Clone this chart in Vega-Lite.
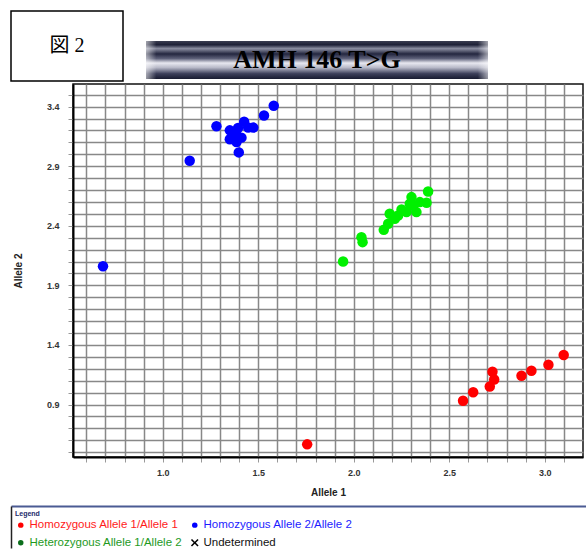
{
  "$schema": "https://vega.github.io/schema/vega-lite/v6.json",
  "padding": {"left": 10, "top": 10, "right": 0, "bottom": 0},
  "background": "white",
  "config": {"font": "Liberation Sans", "view": {"stroke": null}},
  "datasets": {
    "points": [
      {"allele1": 1.756, "allele2": 0.566, "genotype": "Homozygous Allele 1/Allele 1"},
      {"allele1": 2.572, "allele2": 0.932, "genotype": "Homozygous Allele 1/Allele 1"},
      {"allele1": 2.625, "allele2": 1.003, "genotype": "Homozygous Allele 1/Allele 1"},
      {"allele1": 2.712, "allele2": 1.052, "genotype": "Homozygous Allele 1/Allele 1"},
      {"allele1": 2.735, "allele2": 1.110, "genotype": "Homozygous Allele 1/Allele 1"},
      {"allele1": 2.726, "allele2": 1.176, "genotype": "Homozygous Allele 1/Allele 1"},
      {"allele1": 2.878, "allele2": 1.142, "genotype": "Homozygous Allele 1/Allele 1"},
      {"allele1": 2.930, "allele2": 1.184, "genotype": "Homozygous Allele 1/Allele 1"},
      {"allele1": 3.019, "allele2": 1.234, "genotype": "Homozygous Allele 1/Allele 1"},
      {"allele1": 3.099, "allele2": 1.316, "genotype": "Homozygous Allele 1/Allele 1"},
      {"allele1": 0.687, "allele2": 2.061, "genotype": "Homozygous Allele 2/Allele 2"},
      {"allele1": 1.141, "allele2": 2.946, "genotype": "Homozygous Allele 2/Allele 2"},
      {"allele1": 1.281, "allele2": 3.236, "genotype": "Homozygous Allele 2/Allele 2"},
      {"allele1": 1.581, "allele2": 3.408, "genotype": "Homozygous Allele 2/Allele 2"},
      {"allele1": 1.530, "allele2": 3.325, "genotype": "Homozygous Allele 2/Allele 2"},
      {"allele1": 1.426, "allele2": 3.274, "genotype": "Homozygous Allele 2/Allele 2"},
      {"allele1": 1.474, "allele2": 3.224, "genotype": "Homozygous Allele 2/Allele 2"},
      {"allele1": 1.447, "allele2": 3.224, "genotype": "Homozygous Allele 2/Allele 2"},
      {"allele1": 1.351, "allele2": 3.201, "genotype": "Homozygous Allele 2/Allele 2"},
      {"allele1": 1.382, "allele2": 3.187, "genotype": "Homozygous Allele 2/Allele 2"},
      {"allele1": 1.394, "allele2": 3.221, "genotype": "Homozygous Allele 2/Allele 2"},
      {"allele1": 1.368, "allele2": 3.159, "genotype": "Homozygous Allele 2/Allele 2"},
      {"allele1": 1.412, "allele2": 3.140, "genotype": "Homozygous Allele 2/Allele 2"},
      {"allele1": 1.351, "allele2": 3.126, "genotype": "Homozygous Allele 2/Allele 2"},
      {"allele1": 1.386, "allele2": 3.103, "genotype": "Homozygous Allele 2/Allele 2"},
      {"allele1": 1.398, "allele2": 3.016, "genotype": "Homozygous Allele 2/Allele 2"},
      {"allele1": 1.944, "allele2": 2.100, "genotype": "Heterozygous Allele 1/Allele 2"},
      {"allele1": 2.040, "allele2": 2.305, "genotype": "Heterozygous Allele 1/Allele 2"},
      {"allele1": 2.046, "allele2": 2.263, "genotype": "Heterozygous Allele 1/Allele 2"},
      {"allele1": 2.157, "allele2": 2.366, "genotype": "Heterozygous Allele 1/Allele 2"},
      {"allele1": 2.180, "allele2": 2.417, "genotype": "Heterozygous Allele 1/Allele 2"},
      {"allele1": 2.188, "allele2": 2.501, "genotype": "Heterozygous Allele 1/Allele 2"},
      {"allele1": 2.215, "allele2": 2.459, "genotype": "Heterozygous Allele 1/Allele 2"},
      {"allele1": 2.232, "allele2": 2.487, "genotype": "Heterozygous Allele 1/Allele 2"},
      {"allele1": 2.250, "allele2": 2.537, "genotype": "Heterozygous Allele 1/Allele 2"},
      {"allele1": 2.276, "allele2": 2.515, "genotype": "Heterozygous Allele 1/Allele 2"},
      {"allele1": 2.293, "allele2": 2.585, "genotype": "Heterozygous Allele 1/Allele 2"},
      {"allele1": 2.302, "allele2": 2.641, "genotype": "Heterozygous Allele 1/Allele 2"},
      {"allele1": 2.311, "allele2": 2.571, "genotype": "Heterozygous Allele 1/Allele 2"},
      {"allele1": 2.328, "allele2": 2.515, "genotype": "Heterozygous Allele 1/Allele 2"},
      {"allele1": 2.346, "allele2": 2.599, "genotype": "Heterozygous Allele 1/Allele 2"},
      {"allele1": 2.381, "allele2": 2.593, "genotype": "Heterozygous Allele 1/Allele 2"},
      {"allele1": 2.389, "allele2": 2.688, "genotype": "Heterozygous Allele 1/Allele 2"}
    ]
  },
  "align": "none",
  "resolve": {"scale": {"color": "independent", "shape": "independent"}, "legend": {"color": "independent", "shape": "independent"}},
  "vconcat": [
    {
      "align": "none",
      "resolve": {"scale": {"color": "independent"}, "legend": {"color": "independent"}},
      "vconcat": [
        {
          "hconcat": [
            {
              "width": 112,
              "height": 70,
              "view": {"stroke": "#000000", "strokeWidth": 1.5, "fill": "white"},
              "data": {"values": [{"label": "図 2"}]},
              "mark": {"type": "text", "font": "Liberation Serif, Noto Sans CJK JP", "fontSize": 20, "color": "#000000"},
              "encoding": {"text": {"field": "label"}}
            },
            {
              "width": 342,
              "height": 70,
              "data": {"values": [{"label": "AMH 146 T>G"}]},
              "layer": [
                {
                  "mark": {
                    "type": "rect",
                    "fill": {
                      "gradient": "linear", "x1": 0, "y1": 0, "x2": 0, "y2": 1,
                      "stops": [
                        {"offset": 0, "color": "#3a3d50"},
                        {"offset": 0.1, "color": "#1d2036"},
                        {"offset": 0.2, "color": "#8a8da0"},
                        {"offset": 0.34, "color": "#23263f"},
                        {"offset": 0.46, "color": "#5c5f78"},
                        {"offset": 0.58, "color": "#e8e8f0"},
                        {"offset": 0.7, "color": "#b8b9c8"},
                        {"offset": 0.86, "color": "#3c3f5a"},
                        {"offset": 1, "color": "#181b30"}
                      ]
                    }
                  },
                  "encoding": {
                    "y": {"datum": 2, "type": "quantitative", "scale": {"domain": [0, 70], "nice": false, "zero": false}, "axis": null},
                    "y2": {"datum": 40}
                  }
                },
                {
                  "mark": {
                    "type": "rect",
                    "fill": {
                      "gradient": "linear", "x1": 0, "y1": 0, "x2": 1, "y2": 0,
                      "stops": [
                        {"offset": 0, "color": "rgba(255,255,255,0.55)"},
                        {"offset": 0.03, "color": "rgba(255,255,255,0)"},
                        {"offset": 0.97, "color": "rgba(255,255,255,0)"},
                        {"offset": 1, "color": "rgba(255,255,255,0.55)"}
                      ]
                    }
                  },
                  "encoding": {
                    "y": {"datum": 2, "type": "quantitative"},
                    "y2": {"datum": 40}
                  }
                },
                {
                  "mark": {"type": "text", "font": "Liberation Serif", "fontSize": 26, "fontWeight": "bold", "color": "#000000"},
                  "encoding": {
                    "text": {"field": "label"},
                    "y": {"datum": 21, "type": "quantitative"}
                  }
                }
              ]
            }
          ],
          "spacing": 22
        },
        {
          "spacing": 0,
          "hconcat": [
            {
              "width": 1,
              "height": 1,
              "data": {"values": [{"label": ""}]},
              "mark": {"type": "rect", "opacity": 0},
              "encoding": {}
            },
            {
              "width": 510,
              "height": 373,
              "view": {"stroke": "#111111", "strokeWidth": 1.5, "fill": "white"},
              "data": {"name": "points"},
              "mark": {"type": "circle", "size": 110, "opacity": 1},
              "encoding": {
                "x": {
                  "field": "allele1", "type": "quantitative", "title": "Allele 1",
                  "scale": {"domain": [0.53, 3.2], "nice": false, "zero": false},
                  "axis": {
                    "values": [0.6, 0.7, 0.8, 0.9, 1.0, 1.1, 1.2, 1.3, 1.4, 1.5, 1.6, 1.7, 1.8, 1.9, 2.0, 2.1, 2.2, 2.3, 2.4, 2.5, 2.6, 2.7, 2.8, 2.9, 3.0, 3.1],
                    "labelExpr": "abs(datum.value*2 - round(datum.value*2)) < 0.01 ? format(datum.value, '.1f') : ''",
                    "grid": true, "gridColor": "#888888", "gridWidth": 1.5, "gridOpacity": 1,
                    "domainColor": "#000000", "domainWidth": 2,
                    "tickColor": "#999999", "tickSize": 5, "tickWidth": 1,
                    "labelFont": "Liberation Sans", "labelFontSize": 9, "labelFontWeight": "bold", "labelColor": "#333333",
                    "labelPadding": 6, "labelOverlap": false, "labelFlush": false,
                    "titleFont": "Liberation Sans", "titleFontSize": 10, "titleFontWeight": "bold", "titleColor": "#222222", "titlePadding": 10
                  }
                },
                "y": {
                  "field": "allele2", "type": "quantitative", "title": "Allele 2",
                  "scale": {"domain": [0.46, 3.59], "nice": false, "zero": false},
                  "axis": {
                    "values": [0.5, 0.6, 0.7, 0.8, 0.9, 1.0, 1.1, 1.2, 1.3, 1.4, 1.5, 1.6, 1.7, 1.8, 1.9, 2.0, 2.1, 2.2, 2.3, 2.4, 2.5, 2.6, 2.7, 2.8, 2.9, 3.0, 3.1, 3.2, 3.3, 3.4, 3.5],
                    "labelExpr": "abs((datum.value-0.4)*2 - round((datum.value-0.4)*2)) < 0.01 ? format(datum.value, '.1f') : ''",
                    "grid": true, "gridColor": "#888888", "gridWidth": 1.5, "gridOpacity": 1,
                    "domainColor": "#000000", "domainWidth": 2,
                    "tickColor": "#999999", "tickSize": 5, "tickWidth": 1,
                    "labelFont": "Liberation Sans", "labelFontSize": 9, "labelFontWeight": "bold", "labelColor": "#333333",
                    "labelPadding": 9, "labelOverlap": false, "labelFlush": false,
                    "titleFont": "Liberation Sans", "titleFontSize": 10, "titleFontWeight": "bold", "titleColor": "#222222", "titlePadding": 23
                  }
                },
                "color": {
                  "field": "genotype", "type": "nominal",
                  "scale": {
                    "domain": ["Homozygous Allele 1/Allele 1", "Homozygous Allele 2/Allele 2", "Heterozygous Allele 1/Allele 2", "Undetermined"],
                    "range": ["#ff0000", "#0000ff", "#00f000", "#000000"]
                  },
                  "legend": null
                }
              }
            }
          ]
        }
      ],
      "spacing": 1
    },
    {
      "width": 575,
      "height": 42,
      "data": {"name": "points"},
      "mark": {"type": "point", "filled": true, "opacity": 0},
      "encoding": {
        "x": {
          "field": "allele1", "type": "quantitative",
          "axis": {"orient": "top", "title": null, "labels": false, "ticks": false, "grid": false, "domainColor": "#4b5b93", "domainWidth": 2}
        },
        "y": {
          "field": "allele2", "type": "quantitative",
          "axis": {"title": null, "labels": false, "ticks": false, "grid": false, "domainColor": "#222222", "domainWidth": 1.5}
        },
        "color": {
          "field": "genotype", "type": "nominal",
          "scale": {
            "domain": ["Homozygous Allele 1/Allele 1", "Homozygous Allele 2/Allele 2", "Heterozygous Allele 1/Allele 2", "Undetermined"],
            "range": ["#ff0000", "#0000ff", "#0b6e1b", "#000000"]
          },
          "legend": {
            "title": "Legend", "orient": "top-left", "offset": 4, "columns": 2, "direction": "horizontal",
            "titleFont": "Liberation Sans", "titleFontSize": 7, "titleFontWeight": "bold", "titleColor": "#1b2a6b", "titlePadding": 2,
            "labelFont": "Liberation Sans", "labelFontSize": 11.5, "labelLimit": 400, "labelOffset": 3,
            "symbolSize": 30, "symbolOpacity": 1, "symbolStrokeWidth": 0,
            "rowPadding": 5, "columnPadding": 6, "padding": 0,
            "encode": {
              "labels": {"update": {"fill": {"signal": "datum.value === 'Homozygous Allele 1/Allele 1' ? '#ff1a1a' : datum.value === 'Homozygous Allele 2/Allele 2' ? '#1c1cff' : datum.value === 'Heterozygous Allele 1/Allele 2' ? '#1e9a1e' : '#111111'"}}},
              "symbols": {"update": {"fill": {"signal": "datum.value === 'Homozygous Allele 1/Allele 1' ? '#ff0000' : datum.value === 'Homozygous Allele 2/Allele 2' ? '#0000ff' : datum.value === 'Heterozygous Allele 1/Allele 2' ? '#0b6e1b' : '#000000'"}, "opacity": {"value": 1}}}
            }
          }
        },
        "shape": {
          "field": "genotype", "type": "nominal",
          "scale": {
            "domain": ["Homozygous Allele 1/Allele 1", "Homozygous Allele 2/Allele 2", "Heterozygous Allele 1/Allele 2", "Undetermined"],
            "range": ["circle", "circle", "circle", "M-1.4,-1L-1,-1.4L0,-0.4L1,-1.4L1.4,-1L0.4,0L1.4,1L1,1.4L0,0.4L-1,1.4L-1.4,1L-0.4,0Z"]
          }
        }
      }
    }
  ],
  "spacing": 6
}
